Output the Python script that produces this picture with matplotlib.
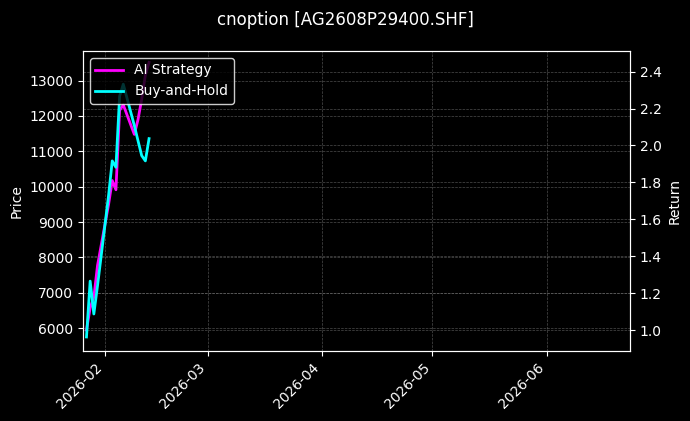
import matplotlib
matplotlib.use("Agg")
import matplotlib.pyplot as plt
import matplotlib.dates as mdates
import pandas as pd

dates = pd.to_datetime(["2026-01-27","2026-01-28","2026-01-29","2026-01-30","2026-02-02",
                        "2026-02-03","2026-02-04","2026-02-05","2026-02-06","2026-02-09",
                        "2026-02-10","2026-02-11","2026-02-12","2026-02-13"])
price = [5750, 7330, 6400, 7200, 9750, 10730, 10550, 12560, 12900, 11730, 11300, 10880, 10730, 11360]
ai_return = [1.00, 1.12, 1.18, 1.35, 1.68, 1.81, 1.76, 2.19, 2.22, 2.06, 2.14, 2.25, 2.38, 2.45]

plt.style.use("dark_background")
fig = plt.figure(figsize=(6.9, 4.21), dpi=100, facecolor="black")
ax = fig.add_axes([0.120, 0.166, 0.793, 0.713])
ax.set_facecolor("black")
ax2 = ax.twinx()

l2, = ax.plot(dates, price, color="#00ffff", lw=2, label="Buy-and-Hold")
l1, = ax2.plot(dates, ai_return, color="#ff00ff", lw=2, label="AI Strategy")
ax.set_zorder(ax2.get_zorder() + 1)
ax.patch.set_visible(False)

ax.set_ylim(5350, 13840)
ax2.set_ylim(0.886, 2.512)
ax.set_xlim(pd.Timestamp("2026-01-26"), pd.Timestamp("2026-06-23 16:00"))
ax.xaxis.set_major_locator(mdates.MonthLocator())
ax.xaxis.set_major_formatter(mdates.DateFormatter("%Y-%m"))
plt.setp(ax.get_xticklabels(), rotation=45, ha="right")

ax.set_ylabel("Price")
ax2.set_ylabel("Return")
ax.grid(True, color="gray", ls="--", lw=0.5, alpha=0.6)
ax2.grid(True, color="gray", ls="--", lw=0.5, alpha=0.6)
for a in (ax, ax2):
    for s in a.spines.values():
        s.set_color("white")

ax.legend([l1, l2], ["AI Strategy", "Buy-and-Hold"], loc="upper left",
          facecolor="black", edgecolor="white", framealpha=0.8)
fig.suptitle("cnoption [AG2608P29400.SHF]", y=0.975, fontsize=12)
fig.savefig("out.png", dpi=100, facecolor="black")
